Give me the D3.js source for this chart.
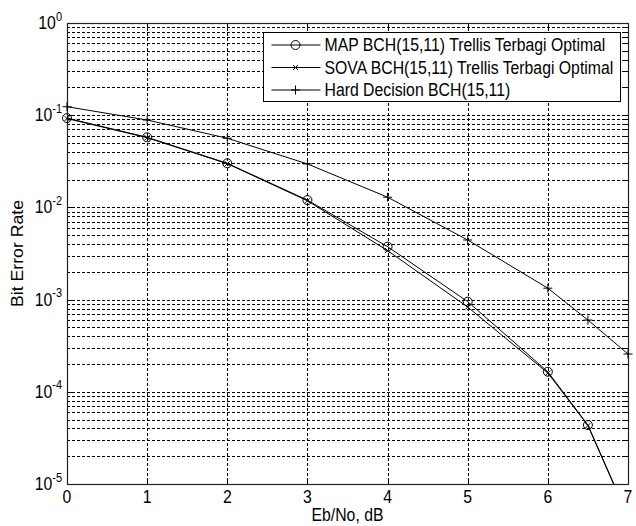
<!DOCTYPE html>
<html>
<head>
<meta charset="utf-8">
<script src="https://cdn.jsdelivr.net/npm/d3@7"></script>
<style>
  body { margin: 0; background: #fff; }
  svg text { font-family: "Liberation Sans", Arial, sans-serif; fill: #000; }
</style>
</head>
<body>
<script>
// Data
var ebno = [0, 1, 2, 3, 4, 5, 6, 6.5, 7];
var mapBer = [0.093, 0.0576, 0.0301, 0.0120, 0.00375, 0.00095, 1.65e-4, 4.36e-5, 4.5e-6];
var sovaBer = [0.092, 0.0570, 0.0298, 0.0118, 0.0034, 0.00083, 1.6e-4, 4.3e-5, 4.4e-6];
var hardBer = [0.1236, 0.0887, 0.0562, 0.0296, 0.0129, 0.00443, 0.00133, 6.0e-4, 2.57e-4];
var xTicks = [0, 1, 2, 3, 4, 5, 6, 7];
var yExponents = [0, -1, -2, -3, -4, -5];
var seriesNames = ["MAP BCH(15,11) Trellis Terbagi Optimal",
    "SOVA BCH(15,11) Trellis Terbagi Optimal",
    "Hard Decision BCH(15,11)"];

var margin = { top: 23, right: 8, bottom: 42, left: 67 },
    width = 636 - margin.left - margin.right,
    height = 526 - margin.top - margin.bottom;

// the picture's text is slightly stretched vertically
var fontSize = 15.8, stretch = 1.12;

var svg = d3.select("body").append("svg")
    .attr("width", 636)
    .attr("height", 526);

var g = svg.append("g")
    .attr("transform", "translate(" + margin.left + "," + margin.top + ")");

var x = d3.scaleLinear().domain([0, 7]).range([0, width]);
var y = d3.scaleLog().domain([1e-5, 1]).range([height, 0]);

g.append("defs").append("clipPath").attr("id", "clip")
    .append("rect").attr("width", width).attr("height", height);

// grid lines (major + minor on log axis)
var minorVals = [];
for (var e = -5; e < 0; e++) {
    for (var m = 1; m <= 9; m++) minorVals.push(m * Math.pow(10, e));
}
var grid = g.append("g").attr("class", "grid");
grid.selectAll("line.h")
    .data(minorVals)
    .enter().append("line")
    .attr("x1", 0).attr("x2", width)
    .attr("y1", function (d) { return Math.round(y(d)) + 0.5; })
    .attr("y2", function (d) { return Math.round(y(d)) + 0.5; })
    .attr("stroke", "#000")
    .attr("stroke-width", 1)
    .attr("stroke-dasharray", "3,2");
grid.selectAll("line.v")
    .data(xTicks.slice(1, -1))
    .enter().append("line")
    .attr("y1", 0).attr("y2", height)
    .attr("x1", function (d) { return Math.round(x(d)) + 0.5; })
    .attr("x2", function (d) { return Math.round(x(d)) + 0.5; })
    .attr("stroke", "#000")
    .attr("stroke-width", 1)
    .attr("stroke-dasharray", "3,2");

function stretchedText(sel, tx, ty, size) {
    return sel.append("text")
        .attr("transform", "translate(" + tx + "," + ty + ") scale(1," + stretch + ")")
        .style("font-size", size + "px");
}

// x tick labels
var xAxisG = g.append("g").attr("transform", "translate(0," + height + ")");
xAxisG.selectAll("g.tick")
    .data(xTicks)
    .enter().append("g")
    .each(function (d) {
        stretchedText(d3.select(this), x(d), 19, fontSize)
            .attr("text-anchor", "middle")
            .text(d3.format("d")(d));
    });

// y tick labels: 10 with superscript exponent
var yAxisG = g.append("g");
yAxisG.selectAll("g.tick")
    .data(yExponents)
    .enter().append("g")
    .each(function (p) {
        var py = y(Math.pow(10, p));
        var t = stretchedText(d3.select(this), -5, py + 6, fontSize)
            .attr("text-anchor", "end");
        t.append("tspan").text("10");
        t.append("tspan").attr("dy", -7.5).style("font-size", "11px").text(p);
    });

// tick marks inside the box
var ticks = g.append("g").attr("stroke", "#000").attr("stroke-width", 1);
xTicks.forEach(function (d) {
    var px = Math.round(x(d)) + 0.5;
    ticks.append("line").attr("x1", px).attr("x2", px).attr("y1", height).attr("y2", height - 5);
    ticks.append("line").attr("x1", px).attr("x2", px).attr("y1", 0).attr("y2", 5);
});
minorVals.concat([1]).forEach(function (d) {
    var py = Math.round(y(d)) + 0.5;
    var major = Math.abs(Math.log10(d) - Math.round(Math.log10(d))) < 1e-9;
    var len = major ? 5 : 3;
    ticks.append("line").attr("x1", 0).attr("x2", len).attr("y1", py).attr("y2", py);
    ticks.append("line").attr("x1", width - len).attr("x2", width).attr("y1", py).attr("y2", py);
});

// box
g.append("rect")
    .attr("x", 0.5).attr("y", 0.5)
    .attr("width", width).attr("height", height)
    .attr("fill", "none")
    .attr("stroke", "#222")
    .attr("stroke-width", 1.2);

// lines
var line = d3.line()
    .x(function (d) { return x(d[0]); })
    .y(function (d) { return y(d[1]); });

function zip(ys) { return ebno.map(function (v, i) { return [v, ys[i]]; }); }

var series = [zip(mapBer), zip(sovaBer), zip(hardBer)];
var plot = g.append("g");
series.forEach(function (s) {
    plot.append("path")
        .datum(s)
        .attr("clip-path", "url(#clip)")
        .attr("d", line)
        .attr("fill", "none")
        .attr("stroke", "#000")
        .attr("stroke-width", 1);
});

function inRange(d) { return d[1] >= 1e-5 && d[1] <= 1; }

function drawCircle(sel, cx, cy) {
    sel.append("circle").attr("cx", cx).attr("cy", cy).attr("r", 4.5)
        .attr("fill", "none").attr("stroke", "#000").attr("stroke-width", 1);
}
function drawX(sel, cx, cy) {
    var r = 2.5;
    sel.append("path")
        .attr("d", "M" + (cx - r) + "," + (cy - r) + "L" + (cx + r) + "," + (cy + r) +
            "M" + (cx - r) + "," + (cy + r) + "L" + (cx + r) + "," + (cy - r))
        .attr("stroke", "#000").attr("stroke-width", 1).attr("fill", "none");
}
function drawPlus(sel, cx, cy) {
    var r = 4.5;
    sel.append("path")
        .attr("d", "M" + (cx - r) + "," + cy + "L" + (cx + r) + "," + cy +
            "M" + cx + "," + (cy - r) + "L" + cx + "," + (cy + r))
        .attr("stroke", "#000").attr("stroke-width", 1).attr("fill", "none");
}
var markers = [drawCircle, drawX, drawPlus];
series.forEach(function (s, i) {
    s.filter(inRange).forEach(function (d) {
        markers[i](plot, x(d[0]), y(d[1]));
    });
});

// legend
var lg = svg.append("g").attr("transform", "translate(263.5,32.5)");
lg.append("rect")
    .attr("width", 357).attr("height", 69)
    .attr("fill", "#fff").attr("stroke", "#000").attr("stroke-width", 1);
seriesNames.forEach(function (name, i) {
    var ry = 12.5 + i * 22.5;
    lg.append("line").attr("x1", 8).attr("x2", 57).attr("y1", ry).attr("y2", ry)
        .attr("stroke", "#000").attr("stroke-width", 1);
    markers[i](lg, 32, ry);
    stretchedText(lg, 61, ry + 6, fontSize).text(name);
});

// axis labels
stretchedText(svg, margin.left + width / 2, 521, fontSize)
    .attr("text-anchor", "middle")
    .text("Eb/No, dB");

svg.append("text")
    .attr("transform", "translate(23," + (margin.top + height / 2) + ") scale(" + 1 + "," + stretch + ") rotate(-90)")
    .attr("text-anchor", "middle")
    .style("font-size", fontSize + "px")
    .text("Bit Error Rate");
</script>
</body>
</html>
